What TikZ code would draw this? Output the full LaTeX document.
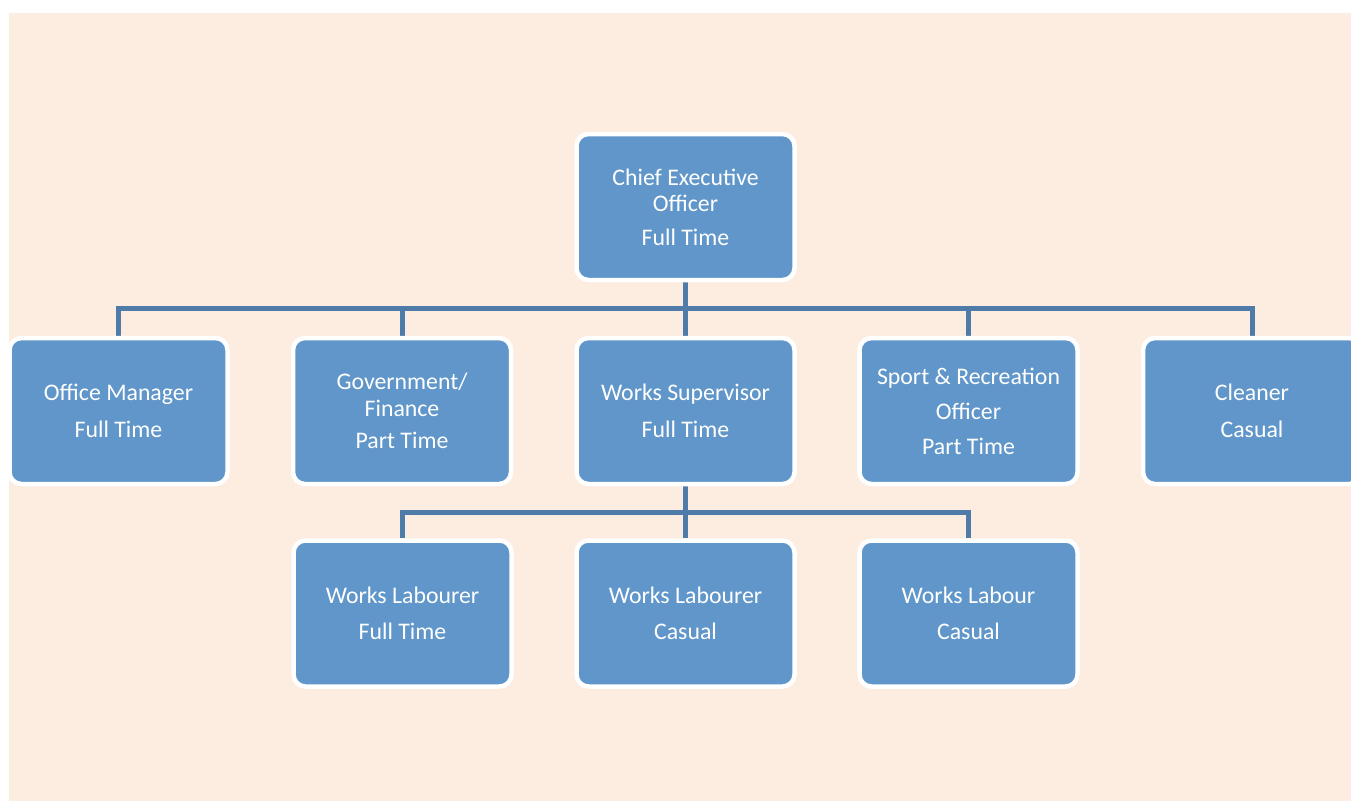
\documentclass[tikz,border=0pt]{standalone}
\usepackage{fontspec}
\setmainfont{Carlito}
\usetikzlibrary{backgrounds}
\definecolor{peach}{HTML}{FDECE0}
\definecolor{boxblue}{HTML}{6096C9}
\definecolor{linkblue}{HTML}{4F7BA9}
\tikzset{
  role/.style={fill=boxblue, draw=white, line width=4.5pt, rounded corners=12pt,
    minimum width=218pt, minimum height=146pt, inner sep=0pt,
    text=white, align=center, font=\fontsize{23.8}{26.5}\selectfont},
  link/.style={draw=linkblue, line width=5pt}
}
\begin{document}
\begin{tikzpicture}[x=1pt,y=-1pt]
\useasboundingbox (0,0) rectangle (1351,801);
\clip (0,0) rectangle (1351,801);

% role boxes
\node[role] (ceo) at (685.5,207) {Chief Executive\\Officer\\[7pt]Full Time};
\node[role] (om) at (118.5,411) {Office Manager\\[10pt]Full Time};
\node[role] (gf) at (402,411) {Government/\\Finance\\[6pt]Part Time};
\node[role] (ws) at (685.5,411) {Works Supervisor\\[10pt]Full Time};
\node[role] (sr) at (968.5,411) {Sport \& Recreation\\[9pt]Officer\\[8pt]Part Time};
\node[role] (cl) at (1252,411) {Cleaner\\[10pt]Casual};
\node[role] (l1) at (402.5,613.5) {Works Labourer\\[9.5pt]Full Time};
\node[role] (l2) at (685.5,613.5) {Works Labourer\\[9.5pt]Casual};
\node[role] (l3) at (968.5,613.5) {Works Labour\\[9.5pt]Casual};

% bus levels for the two tiers of connectors
\coordinate (busA) at (685,308);
\coordinate (busB) at (685,512);

\begin{scope}[on background layer]
\fill[white] (0,0) rectangle (1351,801);
\fill[peach] (9,13) rectangle (1351,801);

\draw[link] (ceo.south) -- (ceo.south |- busA);
\draw[link] (om.north) |- (busA) -| (cl.north);
\draw[link] (gf.north) -- (gf.north |- busA);
\draw[link] (ws.north) -- (ws.north |- busA);
\draw[link] (sr.north) -- (sr.north |- busA);

\draw[link] (ws.south) -- (ws.south |- busB);
\draw[link] (l1.north) |- (busB) -| (l3.north);
\draw[link] (l2.north) -- (l2.north |- busB);
\end{scope}
\end{tikzpicture}
\end{document}
